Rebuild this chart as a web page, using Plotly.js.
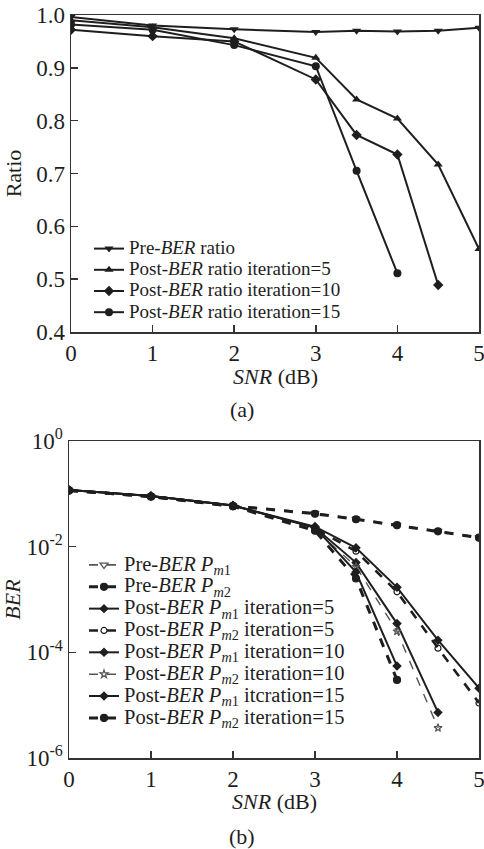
<!DOCTYPE html>
<html>
<head>
<meta charset="utf-8">
<script src="https://cdn.plot.ly/plotly-3.0.1.min.js"></script>
<style>html,body{margin:0;padding:0;background:#fff;}#chart{width:484px;height:849px;}</style>
</head>
<body>
<div id="chart"></div>
<script>
// ---- (a) Ratio vs SNR ----
const snrA = [0, 1, 2, 3, 3.5, 4, 4.5, 5];
const preRatio = [0.996, 0.980, 0.973, 0.968, 0.970, 0.969, 0.970, 0.976];
const postRatioIt5 = [0.990, 0.977, 0.956, 0.919, 0.840, 0.804, 0.717, 0.557];
const postRatioIt10 = [0.972, 0.960, 0.950, 0.878, 0.773, 0.736, 0.489];
const postRatioIt15 = [0.982, 0.972, 0.943, 0.903, 0.705, 0.511];
const namesA = ['Pre-<i>BER</i> ratio', 'Post-<i>BER</i> ratio iteration=5',
                'Post-<i>BER</i> ratio iteration=10', 'Post-<i>BER</i> ratio iteration=15'];

// ---- (b) BER vs SNR ----
const snrB = [0, 1, 2, 3, 3.5, 4, 4.5, 5];
const prePm1 = [0.118, 0.091, 0.060, 0.043, 0.0335, 0.0257, 0.0198, 0.0150];
const prePm2 = [0.116, 0.089, 0.059, 0.042, 0.0330, 0.0255, 0.0195, 0.0148];
const postPm1It5 = [0.118, 0.091, 0.060, 0.024, 0.0095, 0.0017, 1.7e-4, 2.1e-5];
const postPm2It5 = [0.116, 0.089, 0.058, 0.022, 0.0082, 0.0014, 1.2e-4, 1.1e-5];
const postPm1It10 = [0.118, 0.091, 0.060, 0.023, 0.0050, 3.5e-4, 7.3e-6];
const postPm2It10 = [0.116, 0.089, 0.058, 0.021, 0.0042, 2.5e-4, 3.7e-6];
const postPm1It15 = [0.118, 0.091, 0.060, 0.023, 0.0033, 5.5e-5];
const postPm2It15 = [0.116, 0.089, 0.058, 0.020, 0.0025, 3.0e-5];
const yTickValsB = [1e-6, 1e-4, 1e-2, 1];
const yTickTextB = ['10<sup>-6</sup>', '10<sup>-4</sup>', '10<sup>-2</sup>', '10<sup>0</sup>'];

const FONT = '"Liberation Serif", "Times New Roman", Times, serif';
const bigA = s => '<span style="font-size:19px">' + s + '</span>';
const bigB = s => '<span style="font-size:20.5px">' + s + '</span>';
const pm = n => '<i>P</i><sub><i>m</i>' + n + '</sub>';

const W = 484, H = 849;
const px = v => v / W;
const py = v => 1 - v / H;

const dark = '#1e1e1e', gray = '#555555';

function trA(y, name, sym) {
  return {x: snrA.slice(0, y.length), y: y, name: bigA(name), type: 'scatter', mode: 'lines+markers',
    xaxis: 'x', yaxis: 'y', legend: 'legend',
    line: {color: dark, width: 2}, marker: {symbol: sym, size: 8, color: dark}};
}
function trB(y, name, dash, width, color, sym, msize) {
  return {x: snrB.slice(0, y.length), y: y, name: bigB(name), type: 'scatter', mode: 'lines+markers',
    xaxis: 'x2', yaxis: 'y2', legend: 'legend2',
    line: {color: color, width: width, dash: dash},
    marker: {symbol: sym, size: msize, color: color, line: {color: color, width: 1.2}}};
}

const data = [
  trA(preRatio, namesA[0], 'triangle-down'),
  trA(postRatioIt5, namesA[1], 'triangle-up'),
  trA(postRatioIt10, namesA[2], 'diamond'),
  trA(postRatioIt15, namesA[3], 'circle'),
  trB(prePm1, 'Pre-<i>BER</i> ' + pm(1), 'dash', 1.8, gray, 'triangle-down-open', 7),
  trB(prePm2, 'Pre-<i>BER</i> ' + pm(2), 'dash', 3, dark, 'circle', 7),
  trB(postPm1It5, 'Post-<i>BER</i> ' + pm(1) + ' iteration=5', 'solid', 2, dark, 'diamond', 6),
  trB(postPm2It5, 'Post-<i>BER</i> ' + pm(2) + ' iteration=5', 'dash', 2.6, dark, 'circle-open', 6),
  trB(postPm1It10, 'Post-<i>BER</i> ' + pm(1) + ' iteration=10', 'solid', 2, dark, 'diamond', 6),
  trB(postPm2It10, 'Post-<i>BER</i> ' + pm(2) + ' iteration=10', 'dash', 1.4, gray, 'star-open', 6),
  trB(postPm1It15, 'Post-<i>BER</i> ' + pm(1) + ' itcration=15', 'solid', 2, dark, 'diamond', 6),
  trB(postPm2It15, 'Post-<i>BER</i> ' + pm(2) + ' iteration=15', 'dash', 3, dark, 'circle', 7)
];

const axBase = {showline: true, mirror: true, linecolor: '#333', linewidth: 1.5,
  ticks: 'inside', ticklen: 7, tickwidth: 1.5, tickcolor: '#333', showgrid: false, zeroline: false,
  ticklabeloverflow: 'allow',
  tickfont: {size: 23, family: FONT, color: dark}};

const ann = (text, x, y) => ({text: text, xref: 'paper', yref: 'paper', x: px(x), y: py(y),
  xanchor: 'center', yanchor: 'middle', borderpad: 0, showarrow: false, font: {size: 22, family: FONT}});

const layout = {
  width: W, height: H,
  margin: {l: 0, r: 0, t: 0, b: 0},
  paper_bgcolor: '#fff', plot_bgcolor: '#fff',
  font: {family: FONT, color: dark, size: 22},
  xaxis: Object.assign({}, axBase, {domain: [px(71), px(479)], anchor: 'y', range: [0, 5], dtick: 1}),
  yaxis: Object.assign({}, axBase, {domain: [py(332), py(15)], anchor: 'x', range: [0.4, 1.0], dtick: 0.1,
    tickformat: '.1f', title: {text: 'Ratio', font: {size: 22, family: FONT}, standoff: 8}}),
  xaxis2: Object.assign({}, axBase, {domain: [px(69), px(479)], anchor: 'y2', range: [0, 5], dtick: 1}),
  yaxis2: Object.assign({}, axBase, {domain: [py(758), py(441)], anchor: 'x2', type: 'log', range: [-6, 0],
    tickvals: yTickValsB, ticktext: yTickTextB, title: {text: '<i>BER</i>', font: {size: 22, family: FONT}, standoff: 8}}),
  showlegend: true,
  legend: {x: px(89), y: py(233), xanchor: 'left', yanchor: 'top', bgcolor: 'rgba(0,0,0,0)',
    font: {size: 14, family: FONT, color: dark}, itemwidth: 30, tracegroupgap: 0},
  legend2: {x: px(84), y: py(549), xanchor: 'left', yanchor: 'top', bgcolor: 'rgba(0,0,0,0)',
    font: {size: 14.5, family: FONT, color: dark}, itemwidth: 30, tracegroupgap: 0},
  annotations: [
    ann('<i>SNR</i> (dB)', 275, 376),
    ann('<i>SNR</i> (dB)', 274, 801),
    ann('(a)', 242, 409),
    ann('(b)', 242, 836)
  ]
};

Plotly.newPlot('chart', data, layout, {displayModeBar: false, staticPlot: true});
</script>
</body>
</html>
